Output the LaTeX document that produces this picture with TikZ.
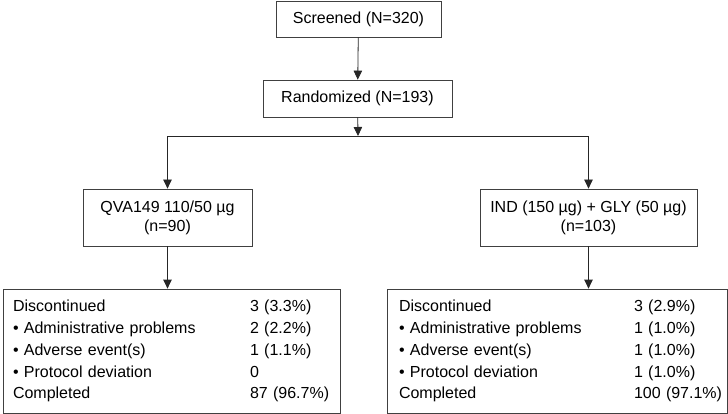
\documentclass[tikz,border=0pt]{standalone}
\usepackage{fontspec}
\setmainfont{Liberation Sans}
\usetikzlibrary{arrows.meta}
\tikzset{
  box/.style={draw=black!75, line width=0.8pt, inner sep=0pt, align=center},
  outbox/.style={draw=black!75, line width=0.8pt, inner ysep=0pt, align=left,
    minimum height=124pt, font=\fontsize{16}{21.75}\selectfont},
  arr/.style={draw=black!85, line width=0.8pt, -{Triangle[width=8.5pt,length=9pt]}},
}
\begin{document}
\begin{tikzpicture}[x=1pt, y=-1pt, every node/.style={font=\fontsize{16}{19}\selectfont}]
\useasboundingbox (0,0) rectangle (728,414);
% enrolment
\node[box, minimum width=165pt, minimum height=36pt] (screen) at (358.5,19) {Screened (N=320)};
\node[box, minimum width=189pt, minimum height=37pt] (rand) at (357.5,98.5) {Randomized (N=193)};
\coordinate (split) at (358,136);
% treatment arms
\node[box, minimum width=169pt, minimum height=57pt] (qva) at (167.5,217.5) {QVA149 110/50 µg\\(n=90)};
\node[box, minimum width=217pt, minimum height=57pt] (ind) at (588.5,217.5) {IND (150 µg) + GLY (50 µg)\\(n=103)};
% outcomes per arm
\node[outbox, inner xsep=10pt, text width=317pt] (qvaout) at (171.5,351) {%
  \begin{tabular}{@{}p{237pt}@{}l@{}}
  Discontinued & 3 (3.3\%)\\
  • Administrative problems & 2 (2.2\%)\\
  • Adverse event(s) & 1 (1.1\%)\\
  • Protocol deviation & 0\\
  Completed & 87 (96.7\%)
  \end{tabular}};
\node[outbox, inner xsep=12pt, text width=316pt] (indout) at (557,351) {%
  \begin{tabular}{@{}p{235pt}@{}l@{}}
  Discontinued & 3 (2.9\%)\\
  • Administrative problems & 1 (1.0\%)\\
  • Adverse event(s) & 1 (1.0\%)\\
  • Protocol deviation & 1 (1.0\%)\\
  Completed & 100 (97.1\%)
  \end{tabular}};
% connectors
\draw[arr] (screen) -- (rand);
\draw[arr] (rand) -- (split);
\draw[arr] (split) -| (qva);
\draw[arr] (split) -| (ind);
\draw[arr] (qva) -- (qva |- qvaout.north);
\draw[arr] (ind) -- (ind |- indout.north);
\end{tikzpicture}
\end{document}
